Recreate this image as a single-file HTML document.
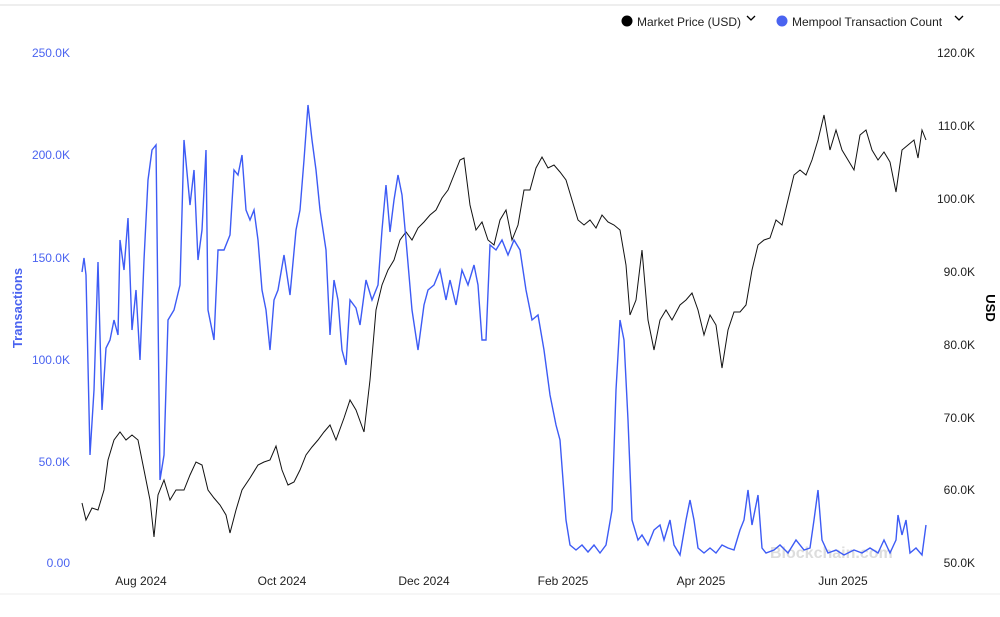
<!DOCTYPE html>
<html><head><meta charset="utf-8"><style>
body{margin:0;background:#fff;font-family:"Liberation Sans",sans-serif;}
svg text{font-family:"Liberation Sans",sans-serif;font-size:12px;}
</style></head><body>
<svg width="1000" height="612" xmlns="http://www.w3.org/2000/svg">
<rect width="1000" height="612" fill="#fff"/>
<line x1="0" y1="5" x2="1000" y2="5" stroke="#eee" stroke-width="2"/>
<line x1="0" y1="594" x2="1000" y2="594" stroke="#eee" stroke-width="1"/>
<circle cx="627" cy="21" r="5.5" fill="#000"/>
<text x="637" y="26" fill="#222">Market Price (USD)</text>
<path d="M747 16l4 4 4-4" fill="none" stroke="#000" stroke-width="1.3"/>
<circle cx="782" cy="21" r="5.5" fill="#4a63f0"/>
<text x="792" y="26" fill="#222">Mempool Transaction Count</text>
<path d="M955 16l4 4 4-4" fill="none" stroke="#000" stroke-width="1.3"/>
<g fill="#4a63f0" text-anchor="end">
<text x="70" y="57">250.0K</text><text x="70" y="159">200.0K</text><text x="70" y="262">150.0K</text>
<text x="70" y="364">100.0K</text><text x="70" y="466">50.0K</text><text x="70" y="567">0.00</text>
</g>
<text transform="translate(22,308) rotate(-90)" text-anchor="middle" fill="#4a63f0" font-weight="bold" style="font-size:13px">Transactions</text>
<g fill="#222" text-anchor="end">
<text x="975" y="57">120.0K</text><text x="975" y="130">110.0K</text><text x="975" y="203">100.0K</text>
<text x="975" y="276">90.0K</text><text x="975" y="349">80.0K</text><text x="975" y="422">70.0K</text>
<text x="975" y="494">60.0K</text><text x="975" y="567">50.0K</text>
</g>
<text transform="translate(986,308) rotate(90)" text-anchor="middle" fill="#000" font-weight="bold" style="font-size:13px">USD</text>
<g fill="#222" text-anchor="middle">
<text x="141" y="585">Aug 2024</text><text x="282" y="585">Oct 2024</text><text x="424" y="585">Dec 2024</text>
<text x="563" y="585">Feb 2025</text><text x="701" y="585">Apr 2025</text><text x="843" y="585">Jun 2025</text>
</g>
<text x="770" y="558" fill="#ddd" style="font-size:16px" font-weight="bold">Blockchain.com</text>
<polyline fill="none" stroke="#111" stroke-width="1" points="82,503 86,520 92,508 98,510 104,490 108,460 114,440 120,432 126,440 132,435 138,440 144,470 150,500 154,537 158,495 164,480 170,500 176,490 184,490 190,475 196,462 202,465 208,490 214,498 220,505 226,515 230,533 236,510 242,490 250,478 258,465 264,462 270,460 276,446 282,470 288,485 294,482 300,470 306,455 312,447 318,440 324,432 330,425 336,440 344,418 350,400 356,410 364,432 370,380 376,310 382,285 388,270 394,260 400,240 406,232 412,240 418,228 424,222 430,215 436,210 442,198 448,190 454,175 460,160 464,158 470,205 476,230 482,222 488,240 494,245 500,220 506,210 512,240 518,225 524,190 530,190 536,168 542,157 548,168 554,165 560,172 566,180 572,200 578,220 584,225 590,220 596,228 602,215 608,222 614,225 620,230 626,265 630,315 636,300 642,250 648,320 654,350 660,320 666,310 672,320 680,305 686,300 692,293 698,310 704,335 710,315 716,325 722,368 728,330 734,312 740,312 746,305 752,270 758,245 764,240 770,238 776,220 782,225 788,200 794,175 800,170 806,175 812,160 818,140 824,115 830,150 836,130 842,150 848,160 854,170 860,135 866,130 872,150 878,160 884,152 890,162 896,192 902,150 908,145 914,140 918,158 922,130 926,140"/>
<polyline fill="none" stroke="#3d5bf5" stroke-width="1.4" points="82,272 84,258 86,275 90,455 94,390 98,262 102,410 106,348 110,340 114,320 118,335 120,240 124,270 128,218 132,330 136,290 140,360 144,260 148,180 152,150 156,145 160,480 164,455 168,320 174,310 180,285 184,140 190,205 194,170 198,260 202,230 206,150 208,310 214,340 218,250 224,250 230,235 234,170 238,175 242,155 246,210 250,220 254,210 258,240 262,290 266,310 270,350 274,300 278,290 284,255 290,295 296,230 300,210 304,160 308,105 312,140 316,170 320,210 326,250 330,335 334,280 338,300 342,350 346,365 350,300 356,308 360,325 366,280 372,300 378,285 382,230 386,185 390,232 394,200 398,175 402,195 406,240 412,310 418,350 424,305 428,290 434,285 440,270 446,300 450,280 456,305 462,270 468,285 474,265 478,285 482,340 486,340 490,245 496,250 502,240 508,255 514,240 520,250 526,290 532,320 538,315 544,350 550,395 556,425 560,440 566,520 570,545 576,550 582,545 588,552 594,545 600,553 606,545 612,510 616,390 620,320 624,340 628,420 632,520 638,540 642,535 648,545 654,530 660,525 664,540 670,520 674,545 680,555 686,520 690,500 694,520 698,548 704,553 710,548 716,553 722,545 728,548 734,550 740,530 744,520 748,490 752,525 758,495 762,548 766,553 774,550 780,545 788,553 796,540 804,550 810,548 814,520 818,490 822,540 828,553 836,550 844,555 854,550 862,553 870,548 878,553 884,540 890,553 896,540 898,515 902,535 906,520 910,553 916,548 922,555 926,525"/>
</svg>
</body></html>
